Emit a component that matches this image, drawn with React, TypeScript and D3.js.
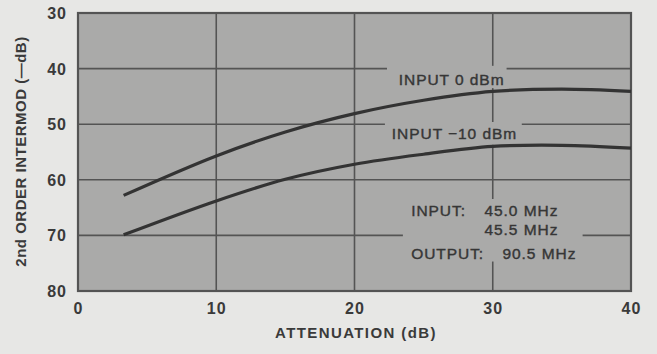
import React from "react";
import * as d3 from "d3";

const attenuation = [3.3, 10, 15, 20, 25, 30, 35, 40];
const input0dBm = [62.8, 55.7, 51.4, 48.1, 45.7, 44.1, 43.7, 44.1];
const inputMinus10dBm = [69.9, 63.8, 59.9, 57.2, 55.4, 54.0, 53.8, 54.3];
const xTicks = [0, 10, 20, 30, 40];
const yTicks = [30, 40, 50, 60, 70, 80];

const W = 657;
const H = 354;
const M = { left: 78, right: 631, top: 13, bottom: 291 };

const PAPER = "#e7e7e5";
const PLOT = "#aaaaa9";
const GRID = "#545454";

export default function App() {
  const x = d3.scaleLinear().domain([0, 40]).range([M.left, M.right]);
  const y = d3.scaleLinear().domain([30, 80]).range([M.top, M.bottom]);

  const line = d3
    .line<number>()
    .x((_, i) => x(attenuation[i]))
    .y((d) => y(d))
    .curve(d3.curveCatmullRom.alpha(0.5));

  // horizontal grid segments (data units), broken around labels
  const hGrid: { v: number; segs: [number, number][] }[] = [
    { v: 40, segs: [[0, 22.35], [31.0, 40]] },
    { v: 50, segs: [[0, 22.2], [32.1, 40]] },
    { v: 60, segs: [[0, 40]] },
    { v: 70, segs: [[0, 23.5], [36.5, 40]] },
  ];
  const vGrid: { v: number; segs: [number, number][] }[] = [
    { v: 10, segs: [[30, 80]] },
    { v: 20, segs: [[30, 80]] },
    { v: 30, segs: [[30, 39.5], [43.5, 49.6], [53.7, 63.45], [74.7, 80]] },
  ];

  const font = "'Liberation Sans', Arial, Helvetica, sans-serif";
  const annot = {
    fontFamily: font,
    fontSize: 15.5,
    fontWeight: 400,
    fill: "#363636",
    stroke: "#363636",
    strokeWidth: 0.4,
    letterSpacing: 0.95,
  };
  const bold = {
    fontFamily: font,
    fontWeight: 700,
    fill: "#3a3a3a",
  };

  return (
    <svg
      width={W}
      height={H}
      style={{ position: "absolute", left: 0, top: 0, background: PAPER }}
    >
      <rect x={0} y={0} width={W} height={H} fill={PAPER} />
      <rect
        x={M.left}
        y={M.top}
        width={M.right - M.left}
        height={M.bottom - M.top}
        fill={PLOT}
      />
      {hGrid.map((g) =>
        g.segs.map((s, i) => (
          <line
            key={`h${g.v}-${i}`}
            x1={x(s[0])}
            x2={x(s[1])}
            y1={y(g.v)}
            y2={y(g.v)}
            stroke={GRID}
            strokeWidth={1.6}
          />
        ))
      )}
      {vGrid.map((g) =>
        g.segs.map((s, i) => (
          <line
            key={`v${g.v}-${i}`}
            x1={x(g.v)}
            x2={x(g.v)}
            y1={y(s[0])}
            y2={y(s[1])}
            stroke={GRID}
            strokeWidth={1.6}
          />
        ))
      )}
      <rect
        x={M.left}
        y={M.top}
        width={M.right - M.left}
        height={M.bottom - M.top}
        fill="none"
        stroke={GRID}
        strokeWidth={2.2}
      />
      <path d={line(input0dBm) || ""} fill="none" stroke="#333" strokeWidth={3.2} />
      <path d={line(inputMinus10dBm) || ""} fill="none" stroke="#333" strokeWidth={3.2} />

      {yTicks.map((t) => (
        <text
          key={`yt${t}`}
          x={67}
          y={y(t) + 6}
          textAnchor="end"
          fontSize={16}
          letterSpacing={1}
          {...bold}
        >
          {t}
        </text>
      ))}
      {xTicks.map((t) => (
        <text
          key={`xt${t}`}
          x={x(t) + 0.5}
          y={313.5}
          textAnchor="middle"
          fontSize={16}
          letterSpacing={1}
          {...bold}
        >
          {t}
        </text>
      ))}
      <text
        x={356}
        y={338}
        textAnchor="middle"
        fontSize={15}
        letterSpacing={1.4}
        {...bold}
      >
        ATTENUATION (dB)
      </text>
      <text
        transform={`translate(25.5,151.5) rotate(-90)`}
        textAnchor="middle"
        fontSize={15}
        letterSpacing={0.5}
        {...bold}
      >
        2nd ORDER INTERMOD (—dB)
      </text>

      <text x={x(23.2)} y={y(42.95)} {...annot}>INPUT 0 dBm</text>
      <text x={x(22.7)} y={y(52.7)} {...annot}>INPUT −10 dBm</text>
      <text x={x(24.1)} y={y(66.6)} {...annot}>INPUT:</text>
      <text x={x(29.4)} y={y(66.6)} {...annot}>45.0 MHz</text>
      <text x={x(29.4)} y={y(69.9)} {...annot}>45.5 MHz</text>
      <text x={x(24.1)} y={y(74.2)} {...annot}>OUTPUT:</text>
      <text x={x(30.7)} y={y(74.2)} {...annot}>90.5 MHz</text>
    </svg>
  );
}
